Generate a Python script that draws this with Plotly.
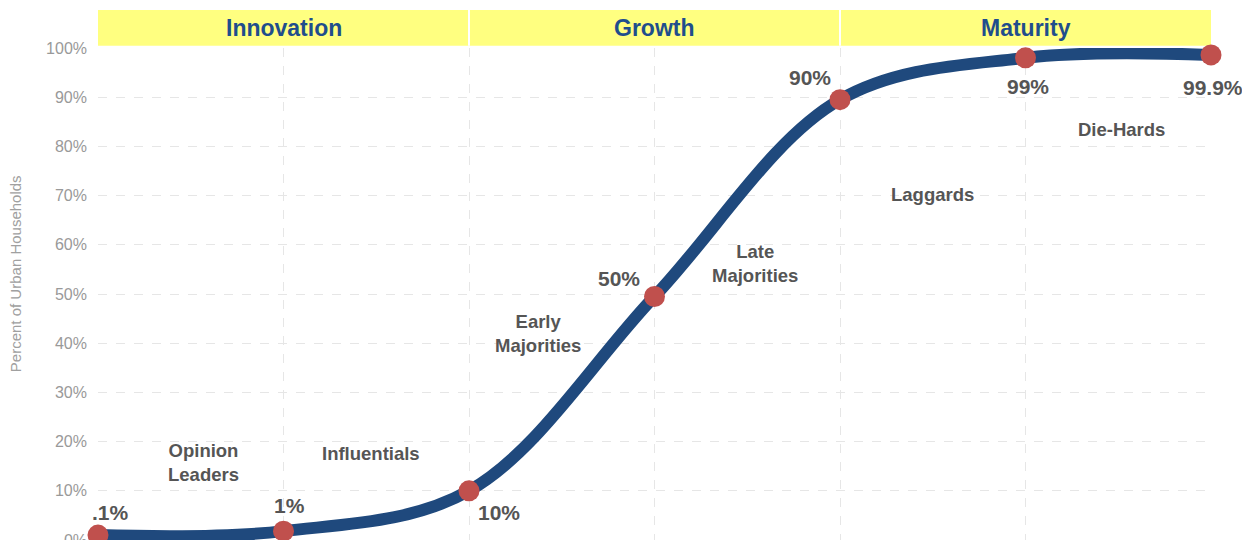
import plotly.graph_objects as go

# Data
stage_x = [0, 1, 2, 3, 4, 5, 6]
adoption = [1.0, 1.8, 10, 49.5, 89.5, 98.0, 98.6]
point_labels = [".1%", "1%", "10%", "50%", "90%", "99%", "99.9%"]

segment_names = ["Innovation", "Growth", "Maturity"]
segment_bounds = [(0, 2), (2, 4), (4, 6.02)]
segment_centers = [1, 3, 5]

group_names = ["Opinion<br>Leaders", "Influentials", "Early<br>Majorities", "Late<br>Majorities", "Laggards", "Die-Hards"]
group_x = [0.57, 1.47, 2.37, 3.54, 4.5, 5.52]
group_y = [15.7, 17.6, 42.0, 56.2, 70.2, 83.4]

y_ticks = list(range(0, 101, 10))
y_tick_text = [f"{v}%" for v in y_ticks]

BLUE = "#1f497d"
RED = "#c0504d"
TXT = "#555555"

fig = go.Figure()

fig.add_trace(go.Scatter(
    x=stage_x, y=adoption, mode="lines",
    line=dict(color=BLUE, width=12, shape="spline", smoothing=1.0),
    hoverinfo="skip", cliponaxis=False, showlegend=False,
))
fig.add_trace(go.Scatter(
    x=stage_x, y=adoption, mode="markers",
    marker=dict(color=RED, size=21, line=dict(width=0)),
    cliponaxis=False, showlegend=False,
))

# point label pixel offsets (dx right, dy up)
label_shift = [(12, 23), (6, 26), (30, -22), (-36, 18), (-30, 22), (2, -29), (2, -33)]
for xv, yv, t, (dx, dy) in zip(stage_x, adoption, point_labels, label_shift):
    fig.add_annotation(x=xv, y=yv, text=t, showarrow=False, xshift=dx, yshift=dy,
                       font=dict(family="Arial", size=21, color=TXT, weight="bold"))

for gx, gy, gt in zip(group_x, group_y, group_names):
    fig.add_annotation(x=gx, y=gy, text=gt, showarrow=False,
                       font=dict(family="Arial", size=18.5, color=TXT, weight="bold"))

# header band
for (x0, x1), name, cx in zip(segment_bounds, segment_names, segment_centers):
    fig.add_shape(type="rect", xref="x", yref="paper", x0=x0, x1=x1, y0=1.0047, y1=1.077,
                  fillcolor="#ffff80", line=dict(width=0), layer="below")
    fig.add_annotation(x=cx, y=1.041, xref="x", yref="paper", yanchor="middle",
                       text=name, showarrow=False,
                       font=dict(family="Arial", size=23, color="#1f4e8c", weight="bold"))
for xb in [2, 4]:
    fig.add_shape(type="line", xref="x", yref="paper", x0=xb, x1=xb, y0=1.0047, y1=1.077,
                  line=dict(color="white", width=2))

# y-axis title as rotated annotation
fig.add_annotation(x=-0.0735, y=0.5407, xref="paper", yref="paper", textangle=-90,
                   text="Percent of Urban Households", showarrow=False,
                   xanchor="center", yanchor="middle",
                   font=dict(family="Arial", size=15, color="#a0a0a0"))

fig.update_xaxes(range=[0, 6], showticklabels=False, tickvals=stage_x,
                 showgrid=True, gridcolor="#e6e6e6", griddash="dash", gridwidth=1,
                 zeroline=False, showline=False)
fig.update_yaxes(range=[0, 100], tickvals=y_ticks, ticktext=y_tick_text,
                 tickfont=dict(family="Arial", size=16, color="#999999"),
                 showgrid=True, gridcolor="#e6e6e6", griddash="dash", gridwidth=1,
                 zeroline=False, showline=False, ticks="", ticklen=0,
                 ticklabelstandoff=10, automargin=False)

fig.update_layout(
    width=1250, height=580,
    margin=dict(l=90, r=47, t=40, b=48),
    plot_bgcolor="white", paper_bgcolor="white",
    showlegend=False,
)

fig.write_html("out.html")
